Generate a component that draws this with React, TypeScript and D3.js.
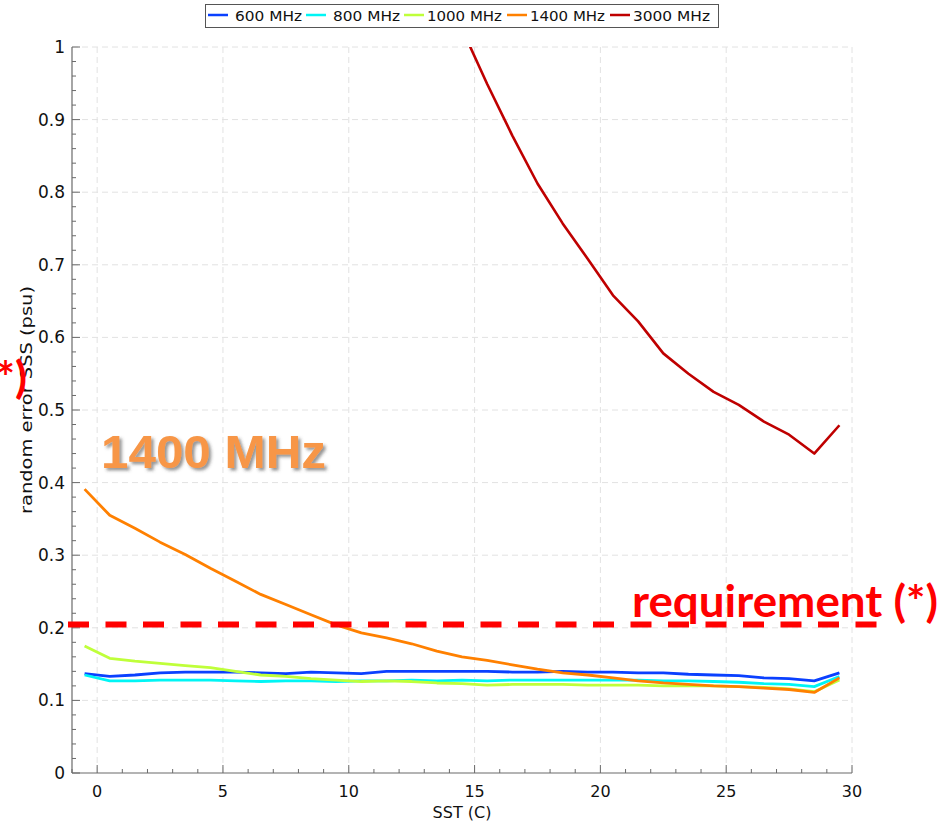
import React from "react";
import * as d3 from "d3";

const sst = [-0.5,0.5,1.5,2.5,3.5,4.5,5.5,6.5,7.5,8.5,9.5,10.5,11.5,12.5,13.5,14.5,15.5,16.5,17.5,18.5,19.5,20.5,21.5,22.5,23.5,24.5,25.5,26.5,27.5,28.5,29.5];

const mhz600 = [0.137,0.133,0.135,0.138,0.139,0.139,0.139,0.138,0.137,0.139,0.138,0.137,0.140,0.140,0.140,0.140,0.140,0.139,0.139,0.140,0.139,0.139,0.138,0.138,0.136,0.135,0.134,0.131,0.130,0.127,0.138];
const mhz800 = [0.135,0.127,0.127,0.128,0.128,0.128,0.127,0.126,0.127,0.127,0.126,0.127,0.127,0.128,0.127,0.128,0.127,0.128,0.128,0.128,0.128,0.128,0.128,0.127,0.127,0.126,0.125,0.123,0.122,0.119,0.133];
const mhz1000 = [0.175,0.158,0.154,0.151,0.148,0.145,0.140,0.135,0.133,0.130,0.128,0.126,0.127,0.126,0.124,0.123,0.121,0.122,0.122,0.122,0.121,0.121,0.121,0.120,0.120,0.120,0.119,0.118,0.116,0.112,0.128];
const mhz1400 = [0.391,0.355,0.337,0.318,0.301,0.282,0.264,0.246,0.232,0.218,0.204,0.193,0.186,0.178,0.168,0.160,0.155,0.149,0.143,0.138,0.135,0.131,0.127,0.124,0.122,0.120,0.119,0.117,0.115,0.111,0.131];
const sst3000 = [14.5,15.5,16.5,17.5,18.5,19.5,20.5,21.5,22.5,23.5,24.5,25.5,26.5,27.5,28.5,29.5];
const mhz3000 = [1.025,0.949,0.878,0.812,0.757,0.708,0.658,0.622,0.578,0.550,0.525,0.507,0.484,0.466,0.440,0.479];

const seriesNames = ["600 MHz","800 MHz","1000 MHz","1400 MHz","3000 MHz"];
const seriesColors = ["#0a40ff","#00f5f5","#bfff3a","#ff8000","#bf0000"];

const xTicks = [0,5,10,15,20,25,30];
const yTicks = [0,0.1,0.2,0.3,0.4,0.5,0.6,0.7,0.8,0.9,1];
const requirement = 0.2045;

const W = 947, H = 823;
const M = { left: 72, right: 852, top: 47, bottom: 773 };

export default function App() {
  const x = d3.scaleLinear().domain([-1, 30]).range([M.left, M.right]);
  const y = d3.scaleLinear().domain([0, 1]).range([M.bottom, M.top]);
  const line = d3.line<[number, number]>().x(d => x(d[0])).y(d => y(d[1]));

  const series = [
    { xs: sst, ys: mhz600 },
    { xs: sst, ys: mhz800 },
    { xs: sst, ys: mhz1000 },
    { xs: sst, ys: mhz1400 },
    { xs: sst3000, ys: mhz3000 },
  ];

  const xMinor = d3.range(-1, 31, 1);
  const yMinor = d3.range(0, 1.0001, 0.02);
  const fmtY = (v: number) => (v === 0 ? "0" : v === 1 ? "1" : v.toFixed(1));

  const legendX = [208, 306, 404, 507, 610];
  const legendTextX = [235, 333, 427, 530, 633];
  const legendTextW = [67, 67, 75, 75, 77];

  const gridColor = "#e2e2e2";
  const axisColor = "#6a6a6a";
  const font = "DejaVu Sans, sans-serif";

  return (
    <svg width={W} height={H} style={{ position: "absolute", left: 0, top: 0, display: "block", background: "#fff" }}>
      <defs>
        <clipPath id="plotClip">
          <rect x={M.left} y={M.top} width={M.right - M.left} height={M.bottom - M.top} />
        </clipPath>
        <filter id="shadow" x="-10%" y="-20%" width="130%" height="150%">
          <feDropShadow dx="2.5" dy="2.5" stdDeviation="1.5" floodColor="#404040" floodOpacity="0.55" />
        </filter>
      </defs>
      <rect x={0} y={0} width={W} height={H} fill="#fff" />

      {/* grid */}
      {xTicks.map(t => (
        <line key={"gx" + t} x1={x(t)} x2={x(t)} y1={M.top} y2={M.bottom} stroke={gridColor} strokeWidth={1} strokeDasharray="6,4" />
      ))}
      {yTicks.filter(t => t > 0).map(t => (
        <line key={"gy" + t} x1={M.left} x2={M.right} y1={y(t)} y2={y(t)} stroke={gridColor} strokeWidth={1} strokeDasharray="6,4" />
      ))}

      {/* series */}
      <g clipPath="url(#plotClip)">
        {series.map((s, i) => (
          <path key={i} d={line(s.xs.map((v, j) => [v, s.ys[j]] as [number, number])) || ""} fill="none"
            stroke={seriesColors[i]} strokeWidth={i === 4 ? 2.6 : 2.8} strokeLinejoin="round" />
        ))}
      </g>

      {/* axes */}
      <line x1={M.left} x2={M.left} y1={M.top} y2={M.bottom} stroke={axisColor} strokeWidth={1.2} />
      <line x1={M.left} x2={M.right} y1={M.bottom} y2={M.bottom} stroke={axisColor} strokeWidth={1.2} />
      {yMinor.map((t, i) => (
        <line key={"ym" + i} x1={M.left} x2={M.left + (i % 5 === 0 ? 8 : 4)} y1={y(t)} y2={y(t)} stroke={axisColor} strokeWidth={1} />
      ))}
      {xMinor.map(t => (
        <line key={"xm" + t} x1={x(t)} x2={x(t)} y1={M.bottom} y2={M.bottom - (t % 5 === 0 ? 8 : 4)} stroke={axisColor} strokeWidth={1} />
      ))}
      {yTicks.map(t => (
        <text key={"yl" + t} x={M.left - 7} y={y(t) + 6} textAnchor="end" fontFamily={font} fontSize={17} fill="#111">{fmtY(t)}</text>
      ))}
      {xTicks.map(t => (
        <text key={"xl" + t} x={x(t)} y={797} textAnchor="middle" fontFamily={font} fontSize={16} fill="#111">{t}</text>
      ))}
      <text x={(M.left + M.right) / 2} y={818} textAnchor="middle" fontFamily={font} fontSize={16} fill="#111">SST (C)</text>
      <text transform={`translate(32,400) rotate(-90)`} textAnchor="middle" fontFamily={font} fontSize={16} fill="#111" textLength={228} lengthAdjust="spacingAndGlyphs">random error SSS (psu)</text>

      {/* legend */}
      <rect x={205.5} y={4.5} width={513} height={23} fill="#fff" stroke="#555" strokeWidth={1} />
      {seriesNames.map((n, i) => (
        <g key={"lg" + i}>
          <line x1={legendX[i]} x2={legendX[i] + 20} y1={15} y2={15} stroke={seriesColors[i]} strokeWidth={2.5} />
          <text x={legendTextX[i]} y={21} fontFamily={font} fontSize={14} fill="#111" textLength={legendTextW[i]} lengthAdjust="spacingAndGlyphs">{n}</text>
        </g>
      ))}

      {/* annotations */}
      <line x1={68} x2={880} y1={y(requirement)} y2={y(requirement)} stroke="#ff0000" strokeWidth={6} strokeDasharray="21,16.5" />
      <text x={632} y={617} fontFamily="Lato, sans-serif" fontWeight="bold" fontSize={44} fill="#ff0000" textLength={306} lengthAdjust="spacingAndGlyphs">requirement (*)</text>
      <text x={27} y={393} textAnchor="end" fontFamily="Lato, sans-serif" fontWeight="bold" fontSize={44} fill="#ff0000">(*)</text>
      <text x={101} y={468} fontFamily="Liberation Sans, Arial, sans-serif" fontWeight="bold" fontSize={46} fill="#f79646" filter="url(#shadow)" textLength={225} lengthAdjust="spacingAndGlyphs">1400 MHz</text>
    </svg>
  );
}
